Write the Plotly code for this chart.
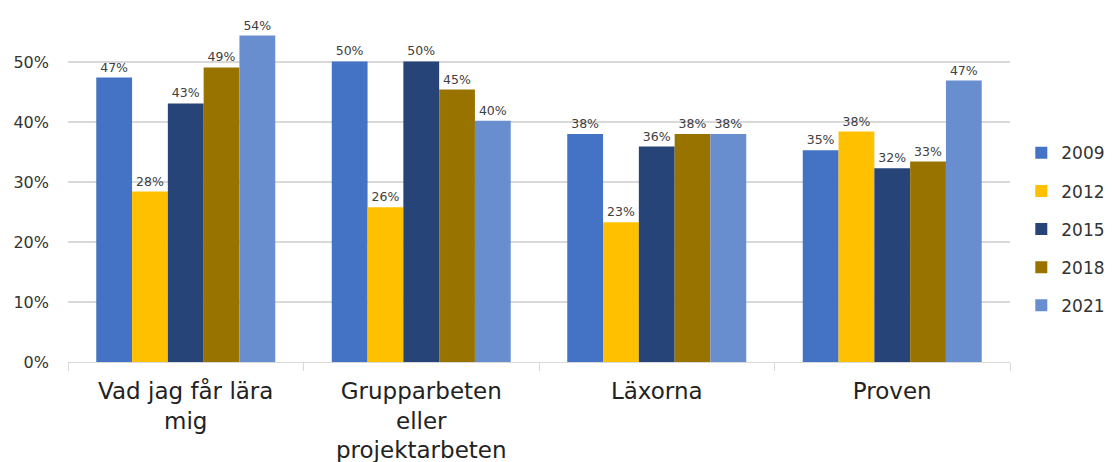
import plotly.graph_objects as go

categories = ["Vad jag får lära<br>mig", "Grupparbeten<br>eller<br>projektarbeten", "Läxorna", "Proven"]
years = ["2009", "2012", "2015", "2018", "2021"]
values = {
    "2009": [0.474, 0.501, 0.380, 0.353],
    "2012": [0.284, 0.258, 0.233, 0.384],
    "2015": [0.431, 0.501, 0.359, 0.323],
    "2018": [0.491, 0.454, 0.380, 0.334],
    "2021": [0.544, 0.402, 0.380, 0.469],
}
colors = {
    "2009": "#4472C4",
    "2012": "#FFC000",
    "2015": "#264478",
    "2018": "#997300",
    "2021": "#698ED0",
}
y_ticks = [0, 0.1, 0.2, 0.3, 0.4, 0.5]

FONT = "DejaVu Sans"
fig = go.Figure()
for i, yr in enumerate(years):
    fig.add_trace(go.Bar(
        x=categories, y=values[yr], name=yr,
        marker=dict(color=colors[yr], line=dict(width=0)),
        texttemplate="%{y:.0%}", textposition="outside",
        textfont=dict(size=12.5, color="#404040", family=FONT),
        cliponaxis=False, legendgroup=yr,
    ))

# page body has an 8px margin, so the figure is 8px smaller than the window
fig.update_layout(
    width=1104, height=454,
    margin=dict(l=60, r=102, t=12, b=100, autoexpand=False),
    paper_bgcolor="white", plot_bgcolor="white",
    barmode="group", bargap=0.24, bargroupgap=0,
    font=dict(family=FONT, color="#333333"),
    legend=dict(x=1.012, xanchor="left", y=0.388, yanchor="middle",
                font=dict(size=17, color="#333333", family=FONT),
                tracegroupgap=13, itemwidth=30),
    showlegend=True,
)
fig.update_xaxes(
    automargin=False,
    showline=True, linecolor="#D9D9D9", linewidth=1,
    ticks="outside", tickson="boundaries", ticklen=8, tickcolor="#D9D9D9",
    tickfont=dict(size=23, color="#222222", family=FONT),
    ticklabelstandoff=8,
    showgrid=False,
)
fig.update_yaxes(
    automargin=False,
    range=[0, 0.57], tickvals=y_ticks, tickformat=".0%",
    showgrid=True, gridcolor="#D9D9D9", gridwidth=1.5,
    zeroline=False, showline=False,
    tickfont=dict(size=16, color="#333333", family=FONT),
    ticklabelstandoff=18,
)
fig.write_html("out.html")
